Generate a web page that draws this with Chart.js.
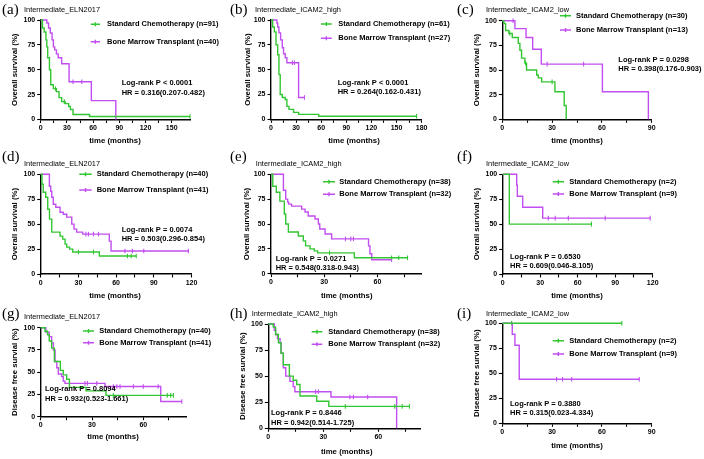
<!DOCTYPE html>
<html><head><meta charset="utf-8">
<script src="https://cdn.jsdelivr.net/npm/chart.js@4.4.0/dist/chart.umd.min.js"></script>
<style>
html,body{margin:0;padding:0;background:#fff;}
#wrap{position:relative;width:704px;height:459px;overflow:hidden;background:#fff;}
canvas{position:absolute;}
</style></head>
<body><div id="wrap"></div>
<script>
// ---------- DATA (time in months, survival in %) ----------
// (a) OS Intermediate_ELN2017
const aStdT=[0,2,4,6,7,8,10,11.5,14.5,18,21,24,28,32,34,37,56,171];
const aStdS=[100,92,88,80,73,62,50,35,31,28,22,18,16,13,10,5,3,3];
const aStdC=[17,27,171];
const aBmtT=[0,7,9,11,13,14.5,16,18,20,24,32.5,58,86];
const aBmtS=[100,97,92,87,80,73,70,66,62,56,38,19,0];
const aBmtC=[37,47];
// (b) OS Intermediate_ICAM2_high
const bStdT=[0,2,4,6,8,9.5,11,13.5,17,19,21.5,27,33,57,174];
const bStdS=[100,93,88,75,65,45,25,22,20,13,10,7,5,3,3];
const bStdC=[174];
const bBmtT=[0,7,8,9.5,11.5,13.5,15,17,19,33,40];
const bBmtS=[100,97,93,87,80,72,66,62,57,22,22];
const bBmtC=[25.5,28,40];
// (c) OS Intermediate_ICAM2_low
const cStdT=[0,1,2,4,6,9.6,10.6,11.6,13.6,14.6,20.7,21.7,23.7,31.7,37.3,38.5];
const cStdS=[100,97,90,87,83,77,70,62,57,50,45,42,38,28,14,0];
const cStdC=[4.5,14,30];
const cBmtT=[0,7.6,14.3,18.3,23.5,60.3,88];
const cBmtS=[100,92,83,71,56,28,0];
const cBmtC=[6.5,27,49];
// (d) OS Intermediate_ELN2017
const dStdT=[0,1,2,4,5.6,7,8.8,15.4,17.5,19.4,20.7,23,25.5,46.7,76];
const dStdS=[100,90,82,77,65,55,42,38,35,30,27,25,22,18,18];
const dStdC=[30,42,69,72,76];
const dBmtT=[0,6.9,8,8.8,10,12,15.4,18,20.7,24.7,26.5,28.6,33.4,54.6,56,117.5];
const dBmtS=[100,88,83,77,70,67,62,60,57,50,45,42,40,33,23,23];
const dBmtC=[36,38,42,46,67,73,82,117.5];
// (e) OS Intermediate_ICAM2_high
const eStdT=[0,1,3,5,7.5,8.3,9.8,15.4,18.2,19.5,22,24.4,26.3,47,77];
const eStdS=[100,88,82,73,60,50,42,38,33,28,25,23,21,16,16];
const eStdC=[33,68,72,77];
const eBmtT=[0,7,8.3,9.4,10,11.6,17.3,19.2,21,24.8,26.7,27.5,30.5,34.2,55,55.8,56.8,68];
const eBmtS=[100,84,75,72,70,68,65,62,58,55,50,45,40,35,28,20,14,14];
const eBmtC=[42,45,46.5,68];
// (f) OS Intermediate_ICAM2_low
const fStdT=[0,5.3,71];
const fStdS=[100,50,50];
const fStdC=[71];
const fBmtT=[0,11.2,11.7,16,32,118];
const fBmtS=[100,89,78,67,56,56];
const fBmtC=[36.5,42,52.5,82,118];
// (g) DFS Intermediate_ELN2017
const gStdT=[0,2.5,4,5,6.4,8,11.5,13.2,15.2,16.8,26.5,38.2,77.6];
const gStdS=[100,96,92,85,77,62,52,47,42,33,29,24,24];
const gStdC=[42.5,74,76,77.6];
const gBmtT=[0,3,5,6.4,7.4,8.4,9.4,10.3,12.3,13.2,14.2,37.6,70.2,82.5];
const gBmtS=[100,95,90,83,75,62,55,48,45,40,37.5,34,17,17];
const gBmtC=[25.9,27.3,32.8,42.5,44.5,46.4,54.2,60,68.7,82.5];
// (h) DFS Intermediate_ICAM2_high
const hStdT=[0,2.7,4,5.5,6.9,8.2,11.5,13.6,15.5,17.3,26.4,33,77];
const hStdS=[100,97,90,82,72,61,50,46,42,31,26,21,21];
const hStdC=[42,69,73,77];
const hBmtT=[0,3.3,4,5,6.4,7,8.2,9.5,11.8,13.6,14.5,34.2,70];
const hBmtS=[100,94,90,86,82,72,58,50,45,40,35,30,0];
const hBmtC=[25.8,27.3,44.5,46.4,54.2];
// (i) DFS Intermediate_ICAM2_low
const iStdT=[0,72];
const iStdS=[100,100];
const iStdC=[5.6,72];
const iBmtT=[0,6,7.6,10.2,82.5];
const iBmtS=[100,89,78,44,44];
const iBmtC=[32.7,36.3,41.8,82.5];

// ---------- TEXT ----------
const panelLabels=["(a)","(b)","(c)","(d)","(e)","(f)","(g)","(h)","(i)"];
const panelTitles=["Intermediate_ELN2017","Intermediate_ICAM2_high","Intermediate_ICAM2_low",
  "Intermediate_ELN2017","Intermediate_ICAM2_high","Intermediate_ICAM2_low",
  "Intermediate_ELN2017","Intermediate_ICAM2_high","Intermediate_ICAM2_low"];
const nStd=[91,61,30,40,38,2,40,38,2];
const nBmt=[40,27,13,41,32,9,41,32,9];
const pTexts=["Log-rank P < 0.0001","Log-rank P < 0.0001","Log-rank P = 0.0298",
  "Log-rank P = 0.0074","Log-rank P = 0.0271","Log-rank P = 0.6530",
  "Log-rank P = 0.8094","Log-rank P = 0.8446","Log-rank P = 0.3880"];
const hrTexts=["HR = 0.316(0.207-0.482)","HR = 0.264(0.162-0.431)","HR = 0.398(0.176-0.903)",
  "HR = 0.503(0.296-0.854)","HR = 0.548(0.318-0.943)","HR = 0.609(0.046-8.105)",
  "HR = 0.932(0.523-1.661)","HR = 0.942(0.514-1.725)","HR = 0.315(0.023-4.334)"];
const yTitles=["Overall survival (%)","Overall survival (%)","Overall survival (%)",
  "Overall survival (%)","Overall survival (%)","Overall survival (%)",
  "Disease free survial (%)","Disease free survial (%)","Disease free survial (%)"];
const xTitle="time (months)";
const xMax=[172,180,90,120,85,120,85,83,90];
const yTicks=[0,25,50,75,100];

const GREEN='#33c633', PURPLE='#c14ef0';

// ---------- LAYOUT (page px) ----------
const L=[
 {cell:[0,0,232,150],   x0:40.7, px30:26.2, yT:20,   yB:119.5, ytx:15,  xt:[115,141],   lab:[2,10],    tit:[24,10],    lg:[24.3,41.7,90.7,100,107], lr:[121.7,83.3,92.7]},
 {cell:[228,0,232,150], x0:271,  px30:25.1, yT:20,   yB:119.3, ytx:248, xt:[354,141],   lab:[230,10],  tit:[255,10],   lg:[24,38.3,321,331.7,338.3], lr:[337.7,83,92]},
 {cell:[455,0,249,150], x0:502.3,px30:49.8, yT:20.7, yB:119.3, ytx:477, xt:[577,141],   lab:[457,10],  tit:[486,10],   lg:[15.7,30,560,571,576], lr:[618.3,60,69]},
 {cell:[0,150,232,150], x0:40.7, px30:37.7, yT:174.3,yB:274,   ytx:15,  xt:[115,295.7], lab:[2,157],   tit:[24,164.3], lg:[174.3,190,79.3,91.7,96.7], lr:[121.7,230,239.3]},
 {cell:[228,150,232,150],x0:271, px30:53.2, yT:174.3,yB:273.7, ytx:246.7,xt:[346.7,295.7],lab:[230,157],tit:[255.7,164.3],lg:[181.7,194.3,323,335,339.3], lr:[275.7,259.3,268.3]},
 {cell:[455,150,249,150],x0:502.7,px30:37.5, yT:174.3,yB:274,   ytx:477, xt:[577,296],   lab:[457,157], tit:[486,164.3],lg:[181.7,194,552.7,564,569.3], lr:[510,256.7,265.7]},
 {cell:[0,300,232,159], x0:40.7, px30:51.3, yT:327.7,yB:416.7, ytx:15,  xt:[113,436.7], lab:[2,314],   tit:[24,316.7], lg:[331,342.7,83,94,99.3], lr:[45,389.3,399]},
 {cell:[228,300,232,159],x0:268.3,px30:55,  yT:324,  yB:428.3, ytx:243, xt:[346.7,451.7],lab:[230,314],tit:[251.7,314.3],lg:[331.7,344.3,311.7,322.3,328.3], lr:[271,413.3,423]},
 {cell:[455,300,249,159],x0:502.3,px30:49.8, yT:323.3,yB:423.3, ytx:477, xt:[577,445.7], lab:[457,314], tit:[486,314.3],lg:[340.7,354,552.7,564,569.3], lr:[510,404,413.3]}
];
const SERIES=[
 [aStdT,aStdS,aStdC,aBmtT,aBmtS,aBmtC],[bStdT,bStdS,bStdC,bBmtT,bBmtS,bBmtC],[cStdT,cStdS,cStdC,cBmtT,cBmtS,cBmtC],
 [dStdT,dStdS,dStdC,dBmtT,dBmtS,dBmtC],[eStdT,eStdS,eStdC,eBmtT,eBmtS,eBmtC],[fStdT,fStdS,fStdC,fBmtT,fBmtS,fBmtC],
 [gStdT,gStdS,gStdC,gBmtT,gBmtS,gBmtC],[hStdT,hStdS,hStdC,hBmtT,hBmtS,hBmtC],[iStdT,iStdS,iStdC,iBmtT,iBmtS,iBmtC]
];

const SANS='"Liberation Sans", Arial, sans-serif';
const WY=25, HX=14;

function pts(T,S){return T.map((t,i)=>({x:t,y:S[i]}));}
function stepAt(T,S,t){let v=S[0];for(let i=0;i<T.length;i++){if(T[i]<=t)v=S[i];}return v;}
function cens(C,T,S){return C.map(t=>({x:t,y:stepAt(T,S,t)}));}

const wrap=document.getElementById('wrap');

L.forEach((p,k)=>{
  const [cl,ct,cw,ch]=p.cell;
  const cv=document.createElement('canvas');
  cv.width=cw; cv.height=ch;
  cv.style.left=cl+'px'; cv.style.top=ct+'px';
  cv.style.width=cw+'px'; cv.style.height=ch+'px';
  wrap.appendChild(cv);
  const x1=p.x0+xMax[k]/30*p.px30;
  const pad={left:p.x0-cl-WY, right:cw-(x1-cl), top:p.yT-ct, bottom:ch-(p.yB-ct)-HX};
  const [sT,sS,sC,bT,bS,bC]=SERIES[k];

  const annot={id:'annot'+k, afterDraw(chart){
    const c=chart.ctx; c.save();
    c.translate(-cl,-ct);
    c.fillStyle='#000';
    c.font='15px "Liberation Serif", serif'; c.textBaseline='middle'; c.textAlign='left';
    c.fillText(panelLabels[k],p.lab[0],p.lab[1]);
    c.font='7.4px '+SANS; c.fillText(panelTitles[k],p.tit[0],p.tit[1]);
    c.font='bold 7.5px '+SANS;
    const lg=p.lg;
    [[GREEN,lg[0],'Standard Chemotherapy (n='+nStd[k]+')'],[PURPLE,lg[1],'Bone Marrow Transplant (n='+nBmt[k]+')']].forEach(([col,y,txt])=>{
      c.strokeStyle=col; c.lineWidth=1.4;
      c.beginPath(); c.moveTo(lg[2],y); c.lineTo(lg[3],y);
      const m=(lg[2]+lg[3])/2; c.moveTo(m,y-2); c.lineTo(m,y+2); c.stroke();
      c.fillStyle='#000'; c.fillText(txt,lg[4],y);
    });
    c.font='bold 7.5px '+SANS;
    c.fillText(pTexts[k],p.lr[0],p.lr[1]);
    c.fillText(hrTexts[k],p.lr[0],p.lr[2]);
    c.font='bold 7.8px '+SANS; c.textAlign='center';
    c.fillText(xTitle,p.xt[0],p.xt[1]);
    c.save(); c.translate(p.ytx,(p.yT+p.yB)/2); c.rotate(-Math.PI/2);
    c.fillText(yTitles[k],0,0); c.restore();
    c.restore();
  }};

  const lineDs=(d,col)=>({data:d,showLine:true,stepped:true,borderColor:col,backgroundColor:col,borderWidth:1.4,pointRadius:0,fill:false,clip:false});
  const censDs=(d,col)=>({data:d,showLine:false,pointStyle:'line',rotation:90,pointRadius:2.3,borderColor:col,backgroundColor:col,pointBorderWidth:1.1,borderWidth:1.1,clip:false});

  new Chart(cv,{
    type:'scatter',
    data:{datasets:[
      lineDs(pts(sT,sS),GREEN),
      lineDs(pts(bT,bS),PURPLE),
      censDs(cens(sC,sT,sS),GREEN),
      censDs(cens(bC,bT,bS),PURPLE)
    ]},
    options:{
      responsive:false, animation:false, devicePixelRatio:1,
      layout:{padding:pad},
      plugins:{legend:{display:false},tooltip:{enabled:false},title:{display:false}},
      scales:{
        x:{type:'linear',min:0,max:xMax[k],
          afterFit(s){s.height=HX;},
          afterBuildTicks(s){s.ticks=s.ticks.filter(t=>Math.abs(t.value/15-Math.round(t.value/15))<1e-6);},
          ticks:{stepSize:15,autoSkip:false,maxRotation:0,color:'#000',padding:1,
            font:{family:SANS,size:7,weight:'bold'},
            callback:(v)=>(Math.round(v)%30===0?String(v):'')},
          grid:{display:true,drawOnChartArea:false,drawTicks:true,tickLength:3.5,tickColor:'#000',tickWidth:1.1},
          border:{display:true,color:'#000',width:1.4}
        },
        y:{type:'linear',min:0,max:100,
          afterFit(s){s.width=WY;},
          afterBuildTicks(s){s.ticks=yTicks.map(v=>({value:v}));},
          ticks:{stepSize:25,autoSkip:false,color:'#000',padding:2,
            font:{family:SANS,size:7,weight:'bold'}},
          grid:{display:true,drawOnChartArea:false,drawTicks:true,tickLength:3.5,tickColor:'#000',tickWidth:1.1},
          border:{display:true,color:'#000',width:1.4}
        }
      }
    },
    plugins:[annot]
  });
});
</script>
</body></html>
